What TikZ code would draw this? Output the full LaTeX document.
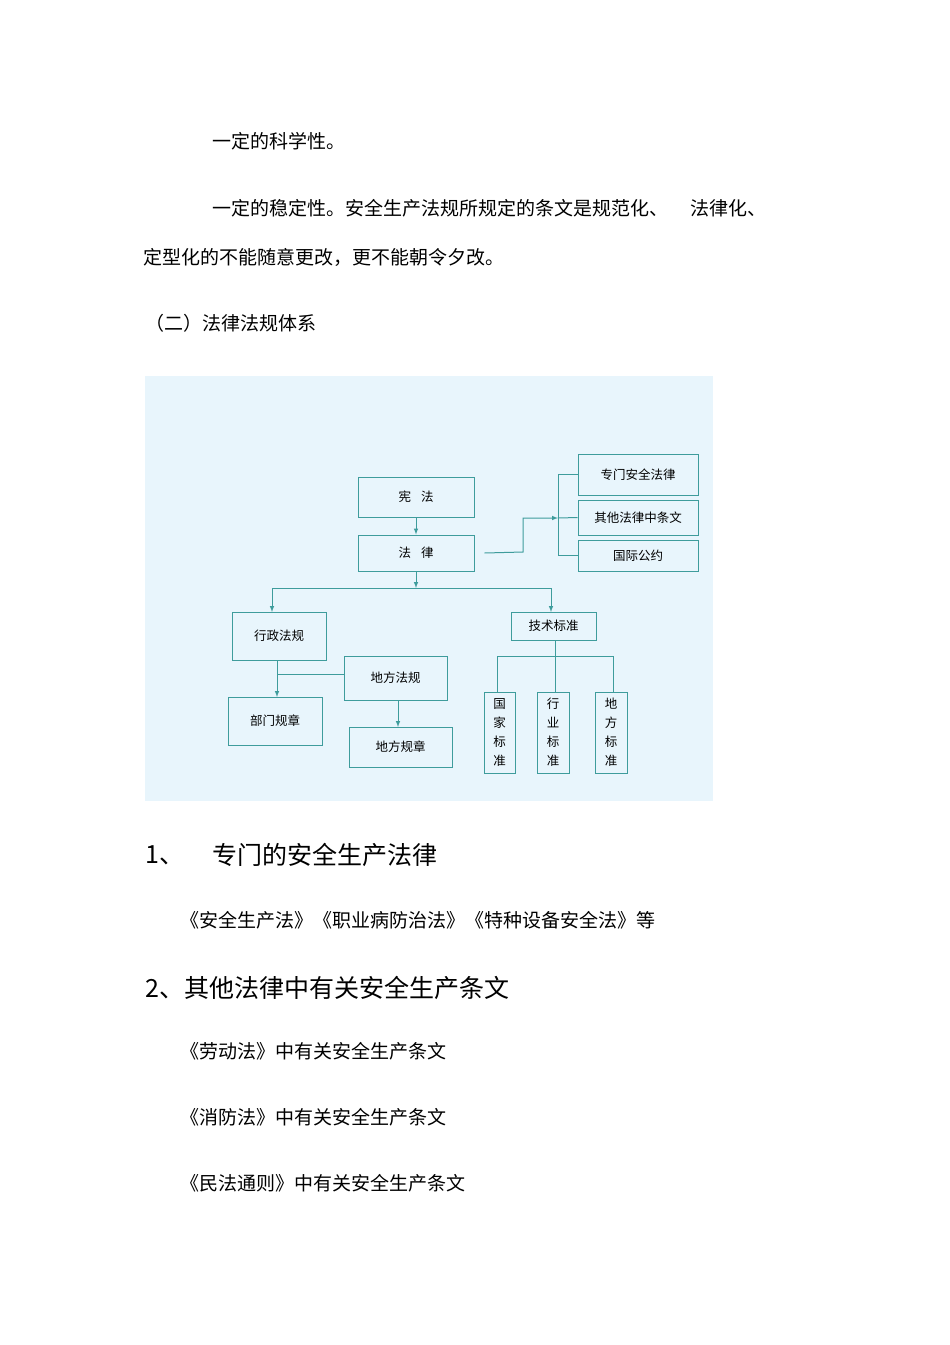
\documentclass[tikz,border=0pt]{standalone}
\usepackage{fontspec}
\setmainfont{Noto Sans CJK SC}
\begin{document}
\begin{tikzpicture}[x=1pt,y=-1pt,
  txt/.style={anchor=west,inner sep=0,font=\fontsize{19}{19}\selectfont},
  big/.style={anchor=west,inner sep=0,font=\fontsize{25}{25}\selectfont},
  bx/.style={draw=lc,line width=1pt,inner sep=0,font=\fontsize{12.5}{13}\selectfont},
  ln/.style={draw=lc,line width=1pt},
  ar/.style={ln,-latex}]
\definecolor{lc}{HTML}{3E9C9C}
\definecolor{bg}{HTML}{E8F5FC}
\useasboundingbox (0,0) rectangle (950,1345);
\fill[white] (0,0) rectangle (950,1345);
\node[txt] (t1) at (212,141) {一定的科学性。};
\node[txt] (t2) at (212,208) {一定的稳定性。安全生产法规所规定的条文是规范化、\hspace{22pt}法律化、};
\node[txt] (t3) at (143,257) {定型化的不能随意更改，更不能朝令夕改。};
\node[txt] (t4) at (145,323) {（二）法律法规体系};
\fill[bg] (145,376) rectangle (713,801);
\node[bx,minimum width=116,minimum height=40] (xf) at (416,497) {宪\hspace{10pt}法};
\node[bx,minimum width=116,minimum height=36] (fl) at (416,553) {法\hspace{10pt}律};
\node[bx,minimum width=120,minimum height=41] (zm) at (638,474.5) {专门安全法律};
\node[bx,minimum width=120,minimum height=35] (qt) at (638,517.5) {其他法律中条文};
\node[bx,minimum width=120,minimum height=31] (gj) at (638,555.5) {国际公约};
\node[bx,minimum width=94,minimum height=48] (xz) at (279,636) {行政法规};
\node[bx,minimum width=103,minimum height=44] (dfg) at (395.5,678) {地方法规};
\node[bx,minimum width=94,minimum height=48] (bm) at (275,721) {部门规章};
\node[bx,minimum width=103,minimum height=40] (dfz) at (400.5,747) {地方规章};
\node[bx,minimum width=85,minimum height=28] (js) at (553.5,626) {技术标准};
\node[bx,minimum width=31,minimum height=81,align=center,font=\fontsize{12.5}{19}\selectfont] (gb) at (499.5,732.5) {国\\家\\标\\准};
\node[bx,minimum width=32,minimum height=81,align=center,font=\fontsize{12.5}{19}\selectfont] (hb) at (553,732.5) {行\\业\\标\\准};
\node[bx,minimum width=32,minimum height=81,align=center,font=\fontsize{12.5}{19}\selectfont] (db) at (611,732.5) {地\\方\\标\\准};
\draw[ar] (xf) -- (fl);
\coordinate (br) at (558,518);
\draw[ar] ([xshift=10pt]fl.east) -- (523,552) -- (523,518) -- (br);
\draw[ln] (zm.west) -- (558,474.5) -- (558,555.5) -- (gj.west);
\draw[ln] (br) -- (qt.west);
\coordinate (hj) at (416,588);
\draw[ar] (fl.south) -- (hj);
\draw[ln] (272,588) -- (551,588);
\draw[ar] (272,588) -- (272,612);
\draw[ar] (551,588) -- (551,612);
\draw[ar] (277,660) -- (277,697);
\draw[ln] (277,674) -- (dfg.west |- 0,674);
\draw[ar] (398,700) -- (398,727);
\draw[ln] (555,640) -- (555,656);
\draw[ln] (497,692) -- (497,656) -- (613,656) -- (613,692);
\draw[ln] (555,656) -- (555,692);
\node[big] (h1) at (145,855) {1、};
\node[big] (h1b) at (212,855) {专门的安全生产法律};
\node[txt] (p1) at (180,920) {《安全生产法》《职业病防治法》《特种设备安全法》等};
\node[big] (h2) at (145,988) {2、其他法律中有关安全生产条文};
\node[txt] (p2) at (180,1051) {《劳动法》中有关安全生产条文};
\node[txt] (p3) at (180,1117) {《消防法》中有关安全生产条文};
\node[txt] (p4) at (180,1183) {《民法通则》中有关安全生产条文};
\end{tikzpicture}
\end{document}
